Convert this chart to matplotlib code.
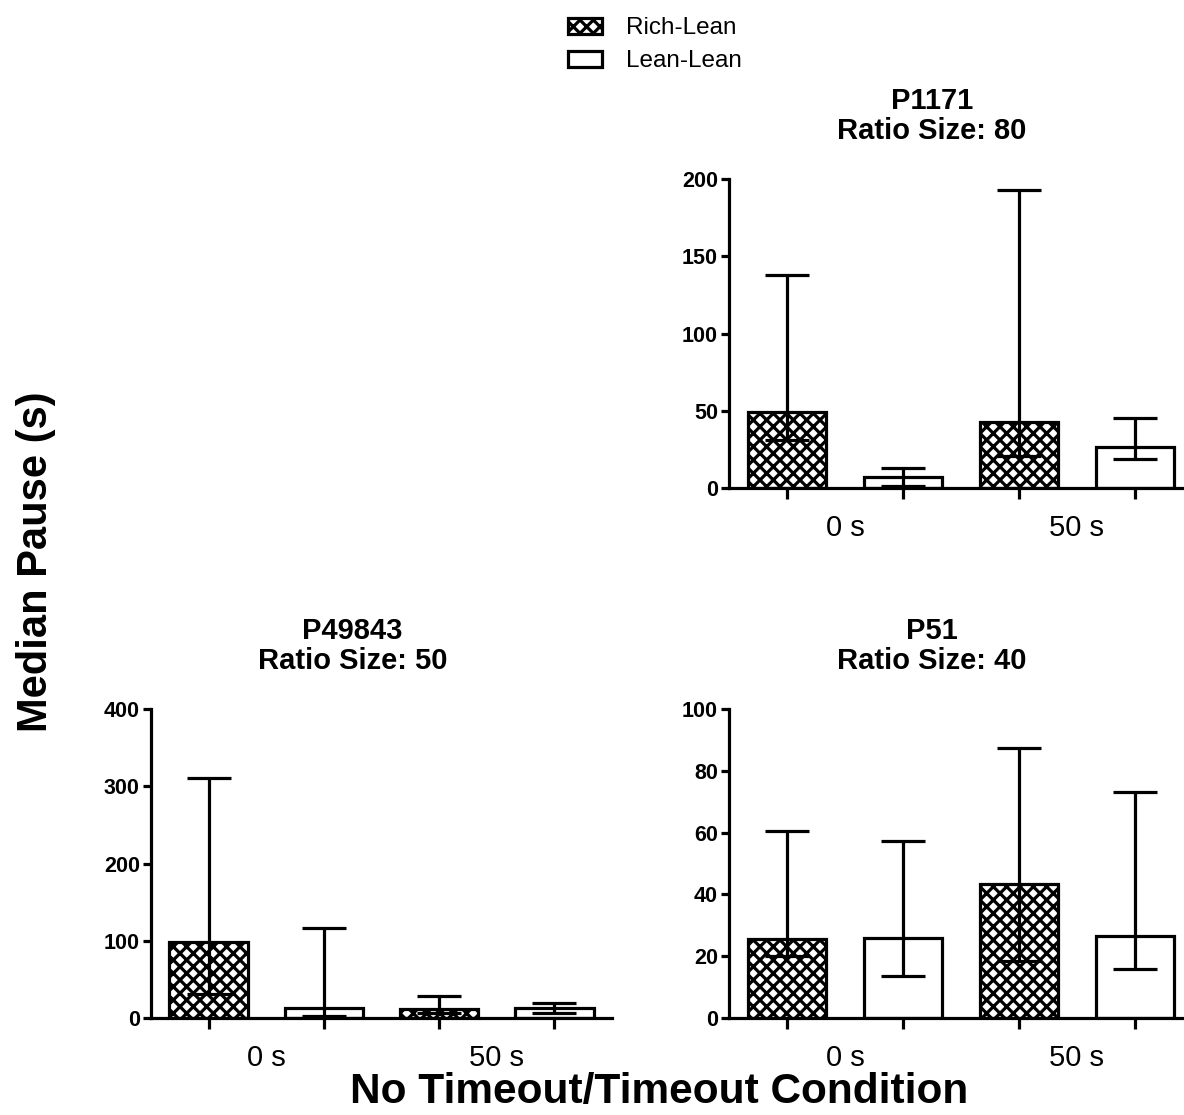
import matplotlib
matplotlib.use("Agg")
import matplotlib.pyplot as plt
from matplotlib.patches import Patch
from matplotlib import transforms

# drawn at dpi 80 so that the hatch cells come out as small as in the original;
# every size in points is scaled by S to keep the same pixel sizes
DPI = 80
S = 100 / DPI

plt.rcParams['font.family'] = ['Liberation Sans', 'DejaVu Sans']
plt.rcParams['hatch.linewidth'] = 2.3 * S

# order: Rich-Lean 0 s, Lean-Lean 0 s, Rich-Lean 50 s, Lean-Lean 50 s
groups = ["0 s", "50 s"]
series = ["Rich-Lean", "Lean-Lean"]

p1171_median = [49, 7, 43, 26.5]
p1171_low = [31, 1, 21, 19]
p1171_high = [138, 13, 193, 45.5]

p49843_median = [99, 13, 11.5, 13]
p49843_low = [31, 2, 7, 7]
p49843_high = [311, 116, 29, 19.5]

p51_median = [25.6, 25.8, 43.3, 26.4]
p51_low = [20, 13.5, 18.3, 15.9]
p51_high = [60.5, 57.3, 87.4, 73]

panels = [
    ("P1171\nRatio Size: 80", p1171_median, p1171_low, p1171_high, 200, 50,
     [0.6157, 0.5623, 0.3919, 0.2771]),
    ("P49843\nRatio Size: 50", p49843_median, p49843_low, p49843_high, 400, 100,
     [0.1275, 0.0870, 0.3894, 0.2771]),
    ("P51\nRatio Size: 40", p51_median, p51_low, p51_high, 100, 20,
     [0.6157, 0.0870, 0.3919, 0.2771]),
]

fig = plt.figure(figsize=(1184 / DPI, 1115 / DPI), dpi=DPI)
lw = 2.3 * S
pos = [0, 1, 2, 3]
hatches = ['xx', None, 'xx', None]

for title, med, low, high, ymax, step, rect in panels:
    ax = fig.add_axes(rect)
    for x, m, h in zip(pos, med, hatches):
        ax.bar(x, m, width=0.68, facecolor='white', edgecolor='black',
               linewidth=lw, hatch=h, zorder=2)
    yerr = [[m - l for m, l in zip(med, low)], [h - m for m, h in zip(med, high)]]
    ax.errorbar(pos, med, yerr=yerr, fmt='none', ecolor='black', elinewidth=lw,
                capsize=15.5 * S, capthick=lw, zorder=3)
    ax.set_xlim(-0.5, 3.5)
    ax.set_ylim(0, ymax)
    ax.set_yticks(range(0, ymax + 1, step))
    ax.set_xticks(pos)
    ax.set_xticklabels([])
    ax.set_xticks([0.5, 2.5], labels=groups, minor=True)
    ax.tick_params(axis='x', which='major', direction='out', length=8 * S, width=lw)
    ax.tick_params(axis='x', which='minor', length=0, pad=19 * S, labelsize=21 * S)
    ax.tick_params(axis='y', direction='out', length=6 * S, width=lw,
                   labelsize=15.5 * S, pad=2 * S)
    for lab in ax.get_yticklabels():
        lab.set_fontweight('bold')
    for s in ['top', 'right']:
        ax.spines[s].set_visible(False)
    for s in ['left', 'bottom']:
        ax.spines[s].set_linewidth(lw)
    trans = transforms.blended_transform_factory(ax.transData, ax.transAxes)
    ax.text(1.25, 1.11, title, transform=trans, ha='center', va='bottom',
            fontsize=21 * S, fontweight='bold', linespacing=1.1)

fig.text(0.030, 0.496, "Median Pause (s)", rotation=90, ha='center', va='center',
         fontsize=30 * S, fontweight='bold')
fig.text(0.557, 0.021, "No Timeout/Timeout Condition", ha='center', va='center',
         fontsize=30.5 * S, fontweight='bold')

handles = [Patch(facecolor='white', edgecolor='black', hatch='xx', linewidth=lw),
           Patch(facecolor='white', edgecolor='black', linewidth=lw)]
fig.legend(handles, series, loc='upper left', bbox_to_anchor=(0.461, 1.004),
           frameon=False, fontsize=17.5 * S, handlelength=1.4, handleheight=0.6,
           handletextpad=1.0, labelspacing=0.45)

fig.savefig("out.png", dpi=DPI)
